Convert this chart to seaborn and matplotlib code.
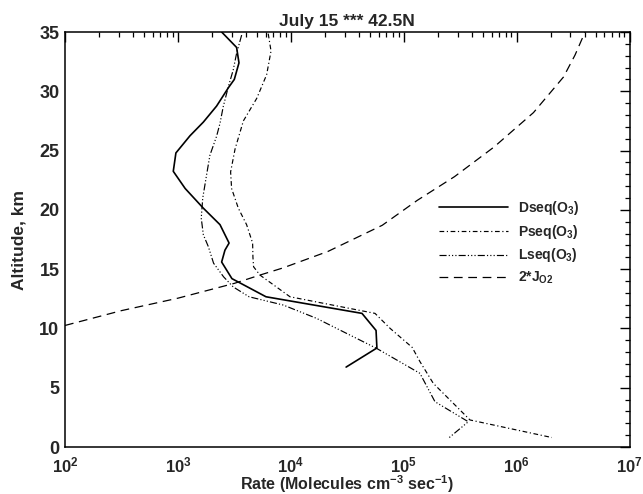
import numpy as np
import pandas as pd
import matplotlib
matplotlib.use("Agg")
import matplotlib.pyplot as plt
import seaborn as sns
from matplotlib.ticker import LogLocator, MultipleLocator, FuncFormatter, NullFormatter

# ---- data ----
dseq_alt = [35.0, 33.7, 32.4, 31.0, 30.3, 28.75, 27.4, 26.25, 24.8, 23.25, 21.8, 20.14,
            18.75, 17.2, 16.6, 15.6, 14.2, 12.67, 11.27, 9.83, 8.35, 6.74]
dseq_rate = [2440, 3310, 3475, 3160, 2800, 2200, 1680, 1280, 960, 910, 1160, 1680,
             2360, 2840, 2610, 2440, 3010, 6030, 42700, 56900, 57900, 30900]

pseq_alt = [34.86, 33.4, 31.4, 29.4, 27.5, 25.14, 23.2, 21.8, 20.14, 18.75, 17.2, 16.0,
            15.2, 14.5, 12.67, 11.27, 10.0, 8.4, 7.2, 5.37, 2.28, 0.8]
pseq_rate = [6310, 6680, 6110, 4990, 3800, 3210, 2930, 2990, 3430, 4060, 4590, 4620,
             4680, 5330, 9840, 55700, 75900, 118900, 139300, 182800, 386400, 2050000]

lseq_alt = [34.74, 33.2, 31.8, 30.4, 28.7, 27.3, 26.2, 24.6, 22.6, 21.0, 19.3, 17.9,
            16.9, 15.5, 14.35, 13.5, 12.67, 11.97, 10.85, 9.44, 8.32, 6.21, 3.82, 2.13, 0.73]
lseq_rate = [3670, 3310, 3090, 2800, 2520, 2360, 2200, 1920, 1770, 1660, 1610, 1680,
             1860, 2070, 2540, 3090, 4270, 8590, 16900, 33400, 57500, 139300, 189200, 373300, 248300]

jo2_alt = [10.25, 11.5, 12.55, 13.8, 14.5, 15.1, 16.5, 18.7, 20.8, 22.8, 25.3, 28.2, 31.2, 33.05, 35.0]
jo2_rate = [100, 316, 1000, 3160, 5330, 8510, 21400, 64600, 131800, 281800, 631000,
            1410000, 2600000, 3290000, 4040000]

series_labels = [r"Dseq(O$_3$)", r"Pseq(O$_3$)", r"Lseq(O$_3$)", r"2*J$_{O2}$"]
title_text = "July 15 *** 42.5N"
xlabel_text = r"Rate (Molecules cm$^{-3}$ sec$^{-1}$)"
ylabel_text = "Altitude, km"

# ---- style ----
sns.set_theme(style="white")
plt.rcParams["font.family"] = ["Liberation Sans", "DejaVu Sans"]
plt.rcParams["font.weight"] = "bold"
plt.rcParams["mathtext.fontset"] = "custom"
plt.rcParams["mathtext.rm"] = "Liberation Sans:bold"
plt.rcParams["mathtext.bf"] = "Liberation Sans:bold"
plt.rcParams["mathtext.it"] = "Liberation Sans:bold"

fig = plt.figure(figsize=(6.43, 4.94), dpi=100)
ax = fig.add_axes([65 / 643, (494 - 447) / 494, (629.5 - 65) / 643, (447 - 32) / 494])

frames = {
    "D": pd.DataFrame({"rate": dseq_rate, "alt": dseq_alt}),
    "P": pd.DataFrame({"rate": pseq_rate, "alt": pseq_alt}),
    "L": pd.DataFrame({"rate": lseq_rate, "alt": lseq_alt}),
    "J": pd.DataFrame({"rate": jo2_rate, "alt": jo2_alt}),
}
styles = {
    "D": dict(linestyle="-", linewidth=1.2),
    "P": dict(linestyle=(0, (4, 2.2, 1, 2.2)), linewidth=0.85),
    "L": dict(linestyle=(0, (6, 1.8, 1, 1.8, 1, 1.8, 1, 1.8)), linewidth=0.85),
    "J": dict(linestyle=(0, (7, 4.5)), linewidth=0.9),
}
for key, lab in zip(["D", "P", "L", "J"], series_labels):
    sns.lineplot(data=frames[key], x="rate", y="alt", sort=False, estimator=None,
                 color="black", label=lab, ax=ax, **styles[key])

ax.set_xscale("log")
ax.set_xlim(1e2, 1e7)
ax.set_ylim(0, 35)

ax.xaxis.set_major_locator(LogLocator(base=10, numticks=10))
ax.xaxis.set_minor_locator(LogLocator(base=10, subs=np.arange(2, 10), numticks=20))
ax.xaxis.set_minor_formatter(NullFormatter())
ax.xaxis.set_major_formatter(FuncFormatter(lambda v, p: r"$\mathbf{10^{%d}}$" % int(round(np.log10(v)))))
ax.yaxis.set_major_locator(MultipleLocator(5))
ax.yaxis.set_minor_locator(MultipleLocator(1))

ax.tick_params(axis="both", which="major", direction="in", length=7, width=1.0,
               top=True, right=True, color="black")
ax.tick_params(axis="both", which="minor", direction="in", length=3.5, width=0.9,
               top=True, right=True, color="black")
ax.tick_params(axis="y", which="major", labelsize=13, pad=4)
ax.tick_params(axis="x", which="major", labelsize=12, pad=6)
for lbl in ax.get_yticklabels():
    lbl.set_fontweight("bold")

for sp in ax.spines.values():
    sp.set_color("black")
    sp.set_linewidth(1.1)

ax.set_title(title_text, fontsize=12.5, fontweight="bold", pad=4)
ax.set_xlabel(xlabel_text, fontsize=11.5, fontweight="bold")
ax.set_ylabel(ylabel_text, fontsize=12.5, fontweight="bold")
ax.xaxis.set_label_coords(0.5, -0.1036)
ax.xaxis.label.set_verticalalignment("baseline")
ax.yaxis.set_label_coords(-0.068, 0.5)

leg = ax.legend(loc="upper left", bbox_to_anchor=(0.64, 0.627), frameon=False,
                handlelength=5.0, handletextpad=0.7, labelspacing=0.4,
                prop={"size": 10, "weight": "bold"})

fig.savefig("out.png", dpi=100)
